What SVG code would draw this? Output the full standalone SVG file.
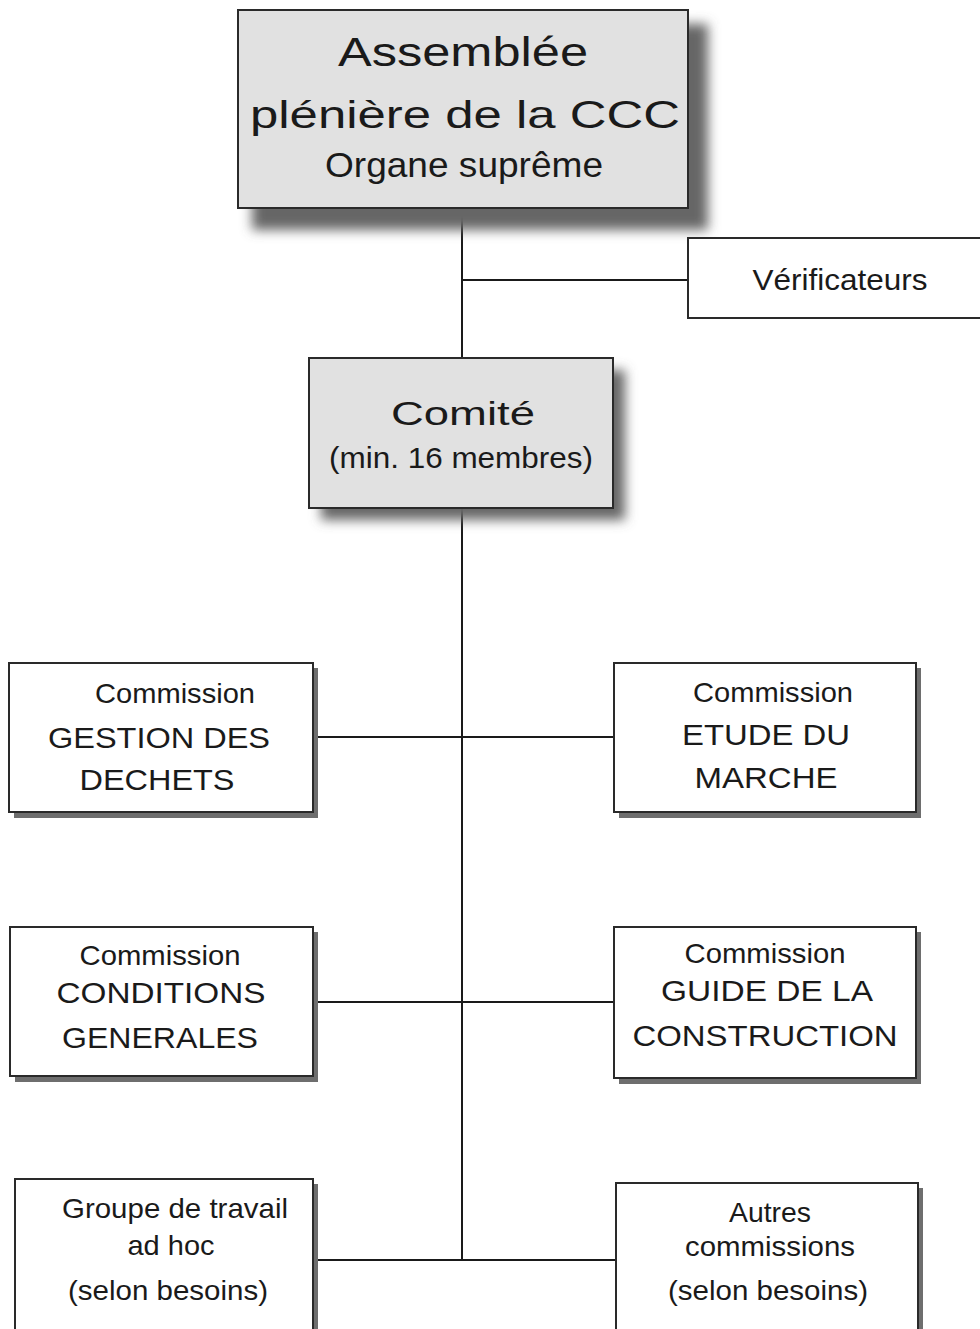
<svg xmlns="http://www.w3.org/2000/svg" width="980" height="1329" viewBox="0 0 980 1329">
<defs>
<filter id="blur" x="-20%" y="-20%" width="150%" height="160%">
<feGaussianBlur stdDeviation="6"/>
</filter>
</defs>
<style>
.gray{fill:#e1e1e1;stroke:#2a2a2a;stroke-width:2}
.box{fill:#ffffff;stroke:#2a2a2a;stroke-width:2}
.sh{fill:#6e6e6e}
.bsh{fill:#666666;filter:url(#blur)}
text{font-family:"Liberation Sans",Arial,sans-serif;fill:#1a1a1a;text-anchor:middle}
.t{font-size:28px}
.u{font-size:30px}
.conn line{stroke:#1a1a1a;stroke-width:2}
</style>
<rect width="980" height="1329" fill="#ffffff"/>
<g class="conn">
<line x1="462" y1="208" x2="462" y2="358"/>
<line x1="462" y1="280" x2="688" y2="280"/>
<line x1="462" y1="508" x2="462" y2="1260"/>
<line x1="313" y1="737" x2="614" y2="737"/>
<line x1="311" y1="1002" x2="614" y2="1002"/>
<line x1="311" y1="1260" x2="616" y2="1260"/>
</g>
<g id="assemblee">
<rect class="bsh" x="252" y="24" width="456" height="206"/>
<rect class="gray" x="238" y="10" width="450" height="198"/>
<text x="463" y="66" style="font-size:40px" textLength="250" lengthAdjust="spacingAndGlyphs">Assemblée</text>
<text x="465" y="128" style="font-size:39px" textLength="430" lengthAdjust="spacingAndGlyphs">plénière de la CCC</text>
<text x="464" y="177" style="font-size:35px" textLength="278" lengthAdjust="spacingAndGlyphs">Organe suprême</text>
</g>
<g id="verificateurs">
<rect class="box" x="688" y="238" width="300" height="80"/>
<text x="840" y="290" style="font-size:30px" textLength="175" lengthAdjust="spacingAndGlyphs">Vérificateurs</text>
</g>
<g id="comite">
<rect class="bsh" x="321" y="370" width="304" height="150"/>
<rect class="gray" x="309" y="358" width="304" height="150"/>
<text x="463" y="425" style="font-size:34px" textLength="144" lengthAdjust="spacingAndGlyphs">Comité</text>
<text x="461" y="468" style="font-size:30px" textLength="264" lengthAdjust="spacingAndGlyphs">(min. 16 membres)</text>
</g>
<g id="gestion">
<rect class="sh" x="14" y="668" width="304" height="150"/>
<rect class="box" x="9" y="663" width="304" height="149"/>
<text class="t" x="175" y="703" textLength="160" lengthAdjust="spacingAndGlyphs">Commission</text>
<text class="u" x="159" y="748" textLength="222" lengthAdjust="spacingAndGlyphs">GESTION DES</text>
<text class="u" x="157" y="790" textLength="155" lengthAdjust="spacingAndGlyphs">DECHETS</text>
</g>
<g id="etude">
<rect class="sh" x="619" y="668" width="302" height="150"/>
<rect class="box" x="614" y="663" width="302" height="149"/>
<text class="t" x="773" y="702" textLength="160" lengthAdjust="spacingAndGlyphs">Commission</text>
<text class="u" x="766" y="745" textLength="168" lengthAdjust="spacingAndGlyphs">ETUDE DU</text>
<text class="u" x="766" y="788" textLength="143" lengthAdjust="spacingAndGlyphs">MARCHE</text>
</g>
<g id="conditions">
<rect class="sh" x="15" y="932" width="303" height="150"/>
<rect class="box" x="10" y="927" width="303" height="149"/>
<text class="t" x="160" y="965" textLength="161" lengthAdjust="spacingAndGlyphs">Commission</text>
<text class="u" x="161" y="1003" textLength="209" lengthAdjust="spacingAndGlyphs">CONDITIONS</text>
<text class="u" x="160" y="1048" textLength="196" lengthAdjust="spacingAndGlyphs">GENERALES</text>
</g>
<g id="guide">
<rect class="sh" x="619" y="932" width="302" height="152"/>
<rect class="box" x="614" y="927" width="302" height="151"/>
<text class="t" x="765" y="963" textLength="161" lengthAdjust="spacingAndGlyphs">Commission</text>
<text class="u" x="767" y="1001" textLength="212" lengthAdjust="spacingAndGlyphs">GUIDE DE LA</text>
<text class="u" x="765" y="1046" textLength="265" lengthAdjust="spacingAndGlyphs">CONSTRUCTION</text>
</g>
<g id="groupe">
<rect class="sh" x="20" y="1184" width="298" height="160"/>
<rect class="box" x="15" y="1179" width="298" height="160"/>
<text class="t" x="175" y="1218" textLength="226" lengthAdjust="spacingAndGlyphs">Groupe de travail</text>
<text class="t" x="171" y="1255" textLength="87" lengthAdjust="spacingAndGlyphs">ad hoc</text>
<text class="t" x="168" y="1300" textLength="200" lengthAdjust="spacingAndGlyphs">(selon besoins)</text>
</g>
<g id="autres">
<rect class="sh" x="621" y="1188" width="302" height="160"/>
<rect class="box" x="616" y="1183" width="302" height="160"/>
<text class="t" x="770" y="1222" textLength="82" lengthAdjust="spacingAndGlyphs">Autres</text>
<text class="t" x="770" y="1256" textLength="170" lengthAdjust="spacingAndGlyphs">commissions</text>
<text class="t" x="768" y="1300" textLength="200" lengthAdjust="spacingAndGlyphs">(selon besoins)</text>
</g>
</svg>
